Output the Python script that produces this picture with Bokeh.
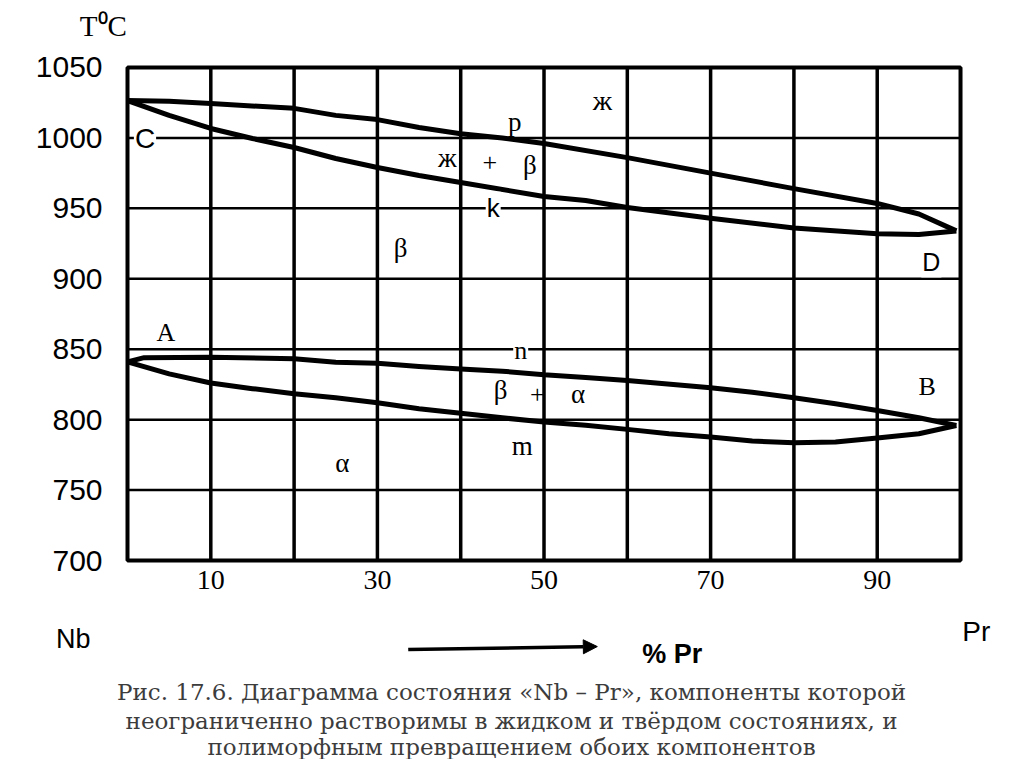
from bokeh.plotting import figure
from bokeh.models import Range1d, Label, Arrow, NormalHead
from bokeh.embed import file_html
from bokeh.resources import INLINE

# ---- data ----
liquidus_x = [0, 5, 10, 20, 25, 30, 35, 40, 45, 50, 60, 70, 80, 90, 95, 99.5]
liquidus_y = [1026.5, 1026, 1024.4, 1021, 1016, 1013, 1007.4, 1003, 1000, 996, 986, 975, 964, 953.5, 946, 934]

solidus_x = [0, 5, 10, 15, 20, 25, 30, 35, 40, 50, 55, 60, 70, 80, 90, 95, 99.5]
solidus_y = [1026.5, 1016, 1006.7, 999.6, 993.2, 985.4, 979, 973.3, 968.4, 958.4, 955.6, 950.6, 943, 936, 932, 931.5, 934]

upper_ba_x = [0, 2, 10, 20, 25, 30, 35, 40, 45, 50, 55, 60, 70, 75, 80, 85, 90, 95, 99.5]
upper_ba_y = [841, 844, 844.3, 843.2, 840.8, 840, 837.7, 836, 834.4, 831.8, 830, 827.8, 822.6, 819.5, 815.5, 811.3, 806.5, 801.3, 795.8]

lower_ba_x = [0, 5, 10, 15, 20, 25, 30, 35, 40, 45, 50, 55, 60, 65, 70, 75, 80, 85, 90, 95, 99.5]
lower_ba_y = [841, 832.5, 826, 822, 818.4, 815.5, 812, 807.7, 804.6, 801.3, 798.3, 796, 793.1, 790, 787.6, 784.8, 783.6, 784.1, 787, 790, 795.8]

x_min, x_max = 0, 100
y_min, y_max = 700, 1050
x_tick_values = [10, 30, 50, 70, 90]
y_tick_values = [700, 750, 800, 850, 900, 950, 1000, 1050]
x_grid_values = [10, 20, 30, 40, 50, 60, 70, 80, 90]
y_grid_values = [750, 800, 850, 900, 950, 1000]

region_text = ["ж", "p", "C", "ж", "+", "β", "k", "β", "D", "A", "n", "β", "+", "α", "B", "m", "α"]
region_x = [57.0, 46.5, 2.1, 38.4, 43.5, 48.3, 43.9, 32.8, 96.5, 4.6, 47.2, 44.8, 49.2, 54.1, 96.0, 47.4, 25.8]
region_y = [1026.6, 1011.5, 999.6, 985.4, 982.6, 981.1, 950.4, 921.5, 911.6, 861.9, 849.0, 820.7, 817.9, 817.9, 823.5, 781.0, 768.9]
region_font = ["Liberation Serif", "Liberation Serif", "Liberation Sans", "Liberation Serif",
               "Liberation Serif", "Liberation Serif", "Liberation Sans", "Liberation Serif",
               "Liberation Sans", "Liberation Serif", "Liberation Serif", "Liberation Serif",
               "Liberation Serif", "Liberation Serif", "Liberation Serif", "Liberation Serif",
               "Liberation Serif"]
region_size = ["28px", "27px", "28px", "27px", "26px", "27px", "26px", "27px", "25px", "26px",
               "26px", "27px", "26px", "27px", "26px", "27px", "27px"]
region_bg = [False, False, True, False, False, False, True, False, True, False, True,
             False, False, False, False, False, False]

caption_lines = [
    "Рис. 17.6. Диаграмма состояния «Nb – Pr», компоненты которой",
    "неограниченно растворимы в жидком и твёрдом состояниях, и",
    "полиморфным превращением обоих компонентов",
]
caption_x = 46.1
caption_y = [606.3, 586.4, 567.3]

# placement of texts that sit outside the diagram box (in the same data units)
y_label_x = -3.0          # right edge of the temperature tick labels
x_label_y = 686.0         # centre line of the composition tick labels

# ---- one figure whose frame covers the whole page; the diagram box sits inside ----
W, H = 1016, 759
p = figure(width=W, height=H, output_backend="svg", toolbar_location=None,
           x_range=Range1d(-15.246, 106.72), y_range=Range1d(558.73, 1097.56),
           x_axis_type=None, y_axis_type=None,
           min_border_left=0, min_border_right=0, min_border_top=0, min_border_bottom=0)
p.outline_line_color = None
p.xgrid.visible = False
p.ygrid.visible = False
p.background_fill_color = "white"
p.border_fill_color = "white"

# grid lines
p.segment(x0=x_grid_values, y0=[y_min] * len(x_grid_values),
          x1=x_grid_values, y1=[y_max] * len(x_grid_values),
          line_color="black", line_width=3.5)
p.segment(x0=[x_min] * len(y_grid_values), y0=y_grid_values,
          x1=[x_max] * len(y_grid_values), y1=y_grid_values,
          line_color="black", line_width=2.5)

# phase boundaries
for xs, ys in ((liquidus_x, liquidus_y), (solidus_x, solidus_y),
               (upper_ba_x, upper_ba_y), (lower_ba_x, lower_ba_y)):
    p.line(xs, ys, line_color="black", line_width=5, line_join="round")

# tick labels
p.text(x=[y_label_x] * len(y_tick_values), y=y_tick_values,
       text=[str(v) for v in y_tick_values], text_align="right", text_baseline="middle",
       text_font={"value": "Liberation Sans"}, text_font_size={"value": "30px"},
       text_color="black")
p.text(x=x_tick_values, y=[x_label_y] * len(x_tick_values),
       text=[str(v) for v in x_tick_values], text_align="center", text_baseline="middle",
       text_font={"value": "Liberation Serif"}, text_font_size={"value": "28px"},
       text_color="black")

# region labels
for t, x, y, f, s, bg in zip(region_text, region_x, region_y, region_font, region_size, region_bg):
    lab = Label(x=x, y=y, text=t, text_align="center", text_baseline="middle",
                text_font=f, text_font_size=s, text_color="black")
    if bg:
        lab.background_fill_color = "white"
        lab.padding = 1
    p.add_layout(lab)

# box (drawn over the label backgrounds so its edge stays whole)
p.quad(left=[x_min], right=[x_max], bottom=[y_min], top=[y_max],
       fill_color=None, line_color="black", line_width=4, level="overlay")

# axis unit, components, direction arrow
p.add_layout(Label(x=-2.9, y=1079.8, text="T⁰C", text_align="center", text_baseline="middle",
                   text_font="Liberation Serif", text_font_size="29px", text_color="black"))
p.add_layout(Label(x=-6.5, y=644.6, text="Nb", text_align="center", text_baseline="middle",
                   text_font="Liberation Sans", text_font_size="27px", text_color="black"))
p.add_layout(Label(x=101.9, y=649.6, text="Pr", text_align="center", text_baseline="middle",
                   text_font="Liberation Sans", text_font_size="28px", text_color="black"))
p.add_layout(Label(x=65.4, y=633.3, text="% Pr", text_align="center", text_baseline="middle",
                   text_font="Liberation Sans", text_font_size="27px", text_font_style="bold",
                   text_color="black"))
p.add_layout(Arrow(x_start=33.7, y_start=636.8, x_end=56.4, y_end=638.9,
                   line_width=3.5, line_color="black",
                   end=NormalHead(size=14, fill_color="black", line_color="black")))

# caption
for line, y in zip(caption_lines, caption_y):
    p.add_layout(Label(x=caption_x, y=y, text=line, text_align="center", text_baseline="alphabetic",
                       text_font="DejaVu Serif", text_font_size="23px", text_color="#3c3c3c"))

open("out.html", "w").write(file_html(p, INLINE))
